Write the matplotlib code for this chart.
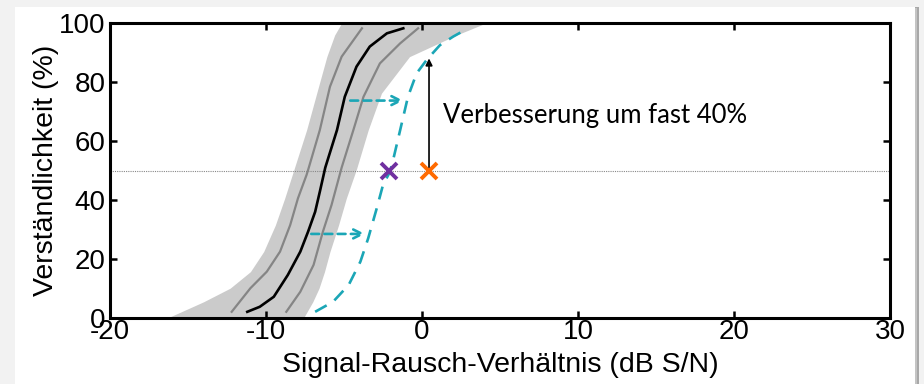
import numpy as np
import matplotlib.pyplot as plt
from matplotlib.patches import Rectangle

# Mittlere Kurve (schwarz) und Streuung (grau)
mean_x = [-11.2, -10.4, -9.5, -8.6, -7.8, -7.3, -6.85, -6.55, -6.2, -5.45, -4.95, -4.2, -3.35, -2.25, -1.2]
mean_y = [2.1, 3.8, 7.2, 14.6, 22.5, 29.3, 36, 42.8, 51, 63.7, 75, 85.2, 92, 96.5, 98.2]

lo_x = [-12.2, -11.0, -9.95, -9.1, -8.45, -7.95, -7.4, -7.3, -6.55, -5.9, -5.15, -3.85]
lo_y = [2.1, 10.1, 15.7, 22.5, 31.5, 40.6, 48.5, 50.2, 63.7, 78.4, 88.6, 98.2]

hi_x = [-8.7, -7.8, -6.95, -6.35, -5.8, -5.15, -4.4, -3.75, -2.7, -1.4, -0.25]
hi_y = [2.1, 8.9, 18, 29.3, 38.3, 51, 63.7, 75, 86.3, 93.1, 98.2]

band_y = [0, 0.4, 5.5, 10.1, 15.7, 22.5, 31.5, 40.6, 50.5, 63.7, 76.2, 88.6, 95.9, 100]
band_left = [-16.6, -16.15, -14.0, -12.3, -11.0, -10.15, -9.4, -8.8, -8.2, -7.4, -6.75, -6.1, -5.6, -5.15]
band_right = [-7.6, -7.55, -7.0, -6.6, -6.25, -5.9, -5.35, -4.85, -4.2, -3.45, -2.6, -0.8, 2.2, 4.1]

# mit Hörgerät (gestrichelt)
aid_x = [-6.85, -5.7, -4.7, -3.95, -3.45, -2.9, -2.5, -2.05, -1.85, -1.4, -0.9, -0.35, 0.3, 1.15, 2.0, 2.75]
aid_y = [2.1, 5.5, 11.2, 19.1, 27, 37.2, 45.1, 49.6, 53.6, 63.7, 75, 82.9, 87.5, 92.5, 95.4, 97.6]

shift_y = [73.7, 28.5]
shift_from = [-4.6, -7.1]
shift_to = [-1.2, -3.65]

srt_x = [-2.1, 0.45]
srt_y = [50, 50]
srt_colors = ['#7030a0', '#ff6a00']

gain_top = 88
note = 'Verbesserung um fast 40%'

teal = '#1ba6b6'

plt.rcParams['font.family'] = ['Liberation Sans', 'DejaVu Sans']
plt.rcParams['axes.unicode_minus'] = False
fig = plt.figure(figsize=(9.24, 3.84), dpi=100)
fig.patch.set_facecolor('#f2f2f2')
# Karte mit Schatten
for i, c in enumerate(['#a8a8a8', '#c4c4c4', '#dcdcdc', '#eeeeee']):
    fig.patches.append(Rectangle((15 / 924, 0), (904 - 2 * i) / 924, (377 - i) / 384,
                                 transform=fig.transFigure, facecolor=c, edgecolor='none', zorder=-3 + i * 0.1))
fig.patches.append(Rectangle((15 / 924, 0), 900 / 924, 377 / 384, transform=fig.transFigure,
                             facecolor='white', edgecolor='none', zorder=-2))

ax = fig.add_axes([110 / 924, 66 / 384, 780 / 924, 295 / 384])
ax.set_facecolor('none')

ax.fill_betweenx(band_y, band_left, band_right, color='#cbcbcb', lw=0, zorder=1)
ax.plot(lo_x, lo_y, color='#858585', lw=1.6, zorder=2)
ax.plot(hi_x, hi_y, color='#858585', lw=1.6, zorder=2)
ax.plot(mean_x, mean_y, color='black', lw=1.9, zorder=3)
ax.plot(aid_x, aid_y, color=teal, lw=1.9, dashes=(5, 3.5), zorder=3)

ax.axhline(50, color='#888888', lw=0.8, ls=(0, (1, 1)), zorder=1.5)

for y, x0, x1 in zip(shift_y, shift_from, shift_to):
    ax.annotate('', xy=(x1, y), xytext=(x0, y),
                arrowprops=dict(arrowstyle='->', color=teal, lw=1.9, linestyle=(0, (3, 2)),
                                mutation_scale=16, shrinkA=0, shrinkB=0), zorder=4)

ax.annotate('', xy=(srt_x[1], gain_top), xytext=(srt_x[1], srt_y[1]),
            arrowprops=dict(arrowstyle='-|>', color='black', lw=1.2, mutation_scale=10,
                            shrinkA=0, shrinkB=0), zorder=4)

for x, y, c in zip(srt_x, srt_y, srt_colors):
    ax.plot(x, y, marker='x', ms=12, mew=2.8, color=c, zorder=5)

ax.text(1.35, 68.5, note, fontsize=18.5, family=['Lato', 'DejaVu Sans'], va='center', ha='left')

ax.set_xlim(-20, 30)
ax.set_ylim(0, 100)
ax.set_xticks([-20, -10, 0, 10, 20, 30])
ax.set_yticks([0, 20, 40, 60, 80, 100])
ax.tick_params(direction='in', length=5, width=1.8, labelsize=20, top=True, right=True, pad=3)
ax.tick_params(axis='x', pad=1)
for s in ax.spines.values():
    s.set_linewidth(2.2)

ax.set_xlabel('Signal-Rausch-Verhältnis (dB S/N)', fontsize=20.5, labelpad=5)
ax.set_ylabel('Verständlichkeit (%)', fontsize=20.5, labelpad=0)

fig.savefig('out.png', dpi=100)
